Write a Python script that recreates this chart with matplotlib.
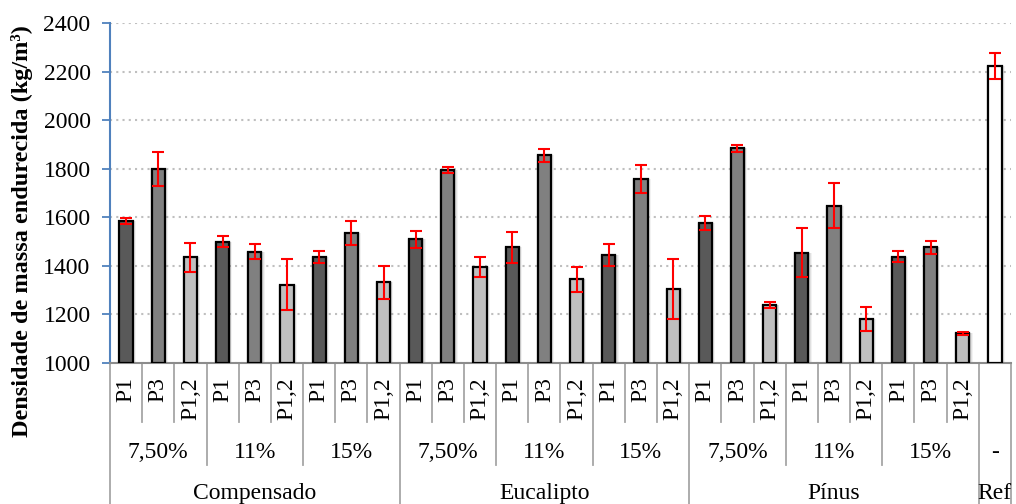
import matplotlib
matplotlib.use('Agg')
import matplotlib.pyplot as plt
import matplotlib.transforms as mtransforms

plt.rcParams['font.family'] = ['Liberation Serif', 'DejaVu Serif']

# wood type, content and mix for every bar
madeiras = ['Compensado', 'Eucalipto', 'Pínus', 'Ref']
teores = ['7,50%', '11%', '15%']
misturas = ['P1', 'P3', 'P1,2']

compensado = [1585, 1800, 1436, 1499, 1458, 1323, 1438, 1535, 1332]
compensado_err = [13, 70, 60, 23, 30, 105, 25, 51, 67]
eucalipto = [1510, 1796, 1395, 1476, 1855, 1344, 1446, 1758, 1305]
eucalipto_err = [35, 13, 40, 65, 27, 50, 46, 56, 122]
pinus = [1575, 1884, 1239, 1454, 1648, 1180, 1438, 1476, 1122]
pinus_err = [29, 15, 12, 101, 93, 50, 24, 28, 5]
ref = [2224]
ref_err = [54]

cores = {'P1': '#595959', 'P3': '#808080', 'P1,2': '#BFBFBF'}

valores = compensado + eucalipto + pinus + ref
erros = compensado_err + eucalipto_err + pinus_err + ref_err
rotulos = misturas * 9 + ['']
cor_barras = [cores[m] for m in misturas * 9] + ['white']
x = list(range(len(valores)))

fig = plt.figure(figsize=(10.16, 5.04), dpi=100)
ax = fig.add_axes([110 / 1016, 1 - 363 / 504, 901 / 1016, 340 / 504])

largura = 0.41
# soft halo behind the bars
for extra, alpha in [(0.16, 0.05), (0.10, 0.07), (0.05, 0.10)]:
    ax.bar([i + 0.02 for i in x], [v - 1000 for v in valores], bottom=1000,
           width=largura + extra, color='black', alpha=alpha, linewidth=0, zorder=2)
ax.bar(x, [v - 1000 for v in valores], bottom=1000, width=largura,
       color=cor_barras, edgecolor='black', linewidth=1.6, zorder=3)
ax.errorbar(x, valores, yerr=erros, fmt='none', ecolor='#FF0000',
            elinewidth=1.5, capsize=4.6, capthick=1.5, zorder=4)

ax.set_ylim(1000, 2400)
ax.set_xlim(-0.5, len(valores) - 0.5)
ax.set_yticks(range(1000, 2401, 200))
ax.tick_params(axis='y', labelsize=17, color='#4F81BD', length=6, width=1.3, pad=8)
ax.set_xticks([])
ax.yaxis.grid(True, color='#BFBFBF', linestyle=(0, (1, 2)), linewidth=1.5)
ax.set_axisbelow(True)
for lado in ['top', 'right']:
    ax.spines[lado].set_visible(False)
ax.spines['left'].set_color('#4F81BD')
ax.spines['left'].set_linewidth(1.5)
ax.spines['bottom'].set_color('#8C8C8C')
ax.spines['bottom'].set_linewidth(1.5)
fig.text(22 / 1016, 1 - 231 / 504, 'Densidade de massa endurecida (kg/m³)',
         rotation=90, ha='center', va='center', fontsize=17.5, fontweight='bold')

# grouped category axis below the plot
trans = mtransforms.blended_transform_factory(ax.transData, ax.transAxes)
nivel1, nivel2, nivel3 = -0.1735, -0.30, -0.42
cor_sep = '#A6A6A6'
for i in range(len(valores) + 1):
    pos = i - 0.5
    if i in (0, 9, 18, 27, 28):
        fundo = nivel3
    elif i % 3 == 0:
        fundo = nivel2
    else:
        fundo = nivel1
    ax.plot([pos, pos], [0, fundo], transform=trans, color=cor_sep,
            linewidth=1.3, clip_on=False)

for i, r in enumerate(rotulos):
    if r:
        ax.text(i, -0.042, r, transform=trans, rotation=90, ha='center',
                va='top', fontsize=17)

grupos2 = teores * 3 + ['-']
for j, t in enumerate(grupos2):
    centro = j * 3 + 1 if j < 9 else 27
    ax.text(centro, -0.262, t, transform=trans, ha='center', va='center',
            fontsize=17)

centros3 = [4, 13, 22, 27]
for m, c in zip(madeiras, centros3):
    ax.text(c, -0.385, m, transform=trans, ha='center', va='center',
            fontsize=17)

fig.savefig('out.png', dpi=100)
